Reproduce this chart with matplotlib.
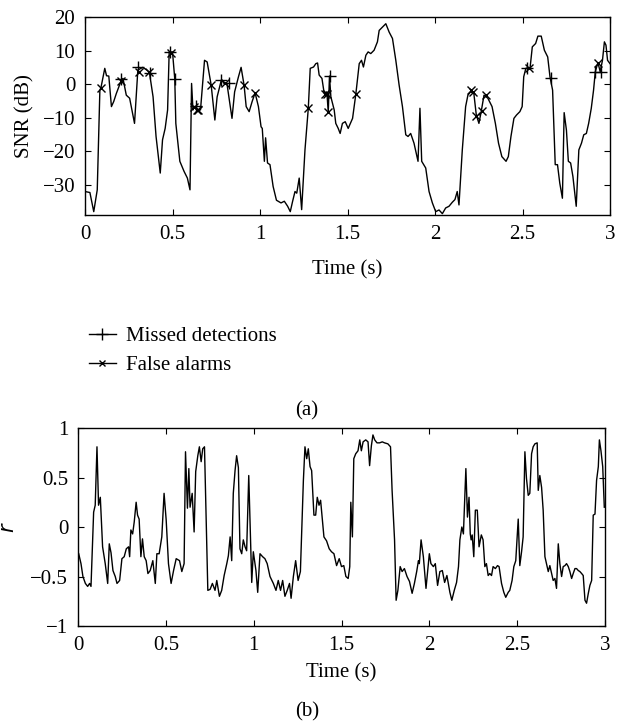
import matplotlib
matplotlib.use("Agg")
import matplotlib.pyplot as plt

# SNR curve, panel (a): (time s, SNR dB)
snr_points = [
    (0.0, -32), (0.028, -32.3), (0.05, -38), (0.07, -31.5), (0.085, -1.8), (0.091, -1.1),
    (0.113, 4.7), (0.123, 2.5), (0.136, 2.4), (0.151, -6.7), (0.164, -5.2), (0.179, -2.8),
    (0.208, 1.2), (0.217, 1.7), (0.236, -3.3), (0.255, -4.2), (0.283, -11.7), (0.302, 4.2),
    (0.33, 5.0), (0.353, 4.2), (0.368, 3.5), (0.389, -3.8), (0.406, -15.6), (0.43, -26.5),
    (0.443, -16.6), (0.458, -13.2), (0.472, -7.7), (0.481, 9.6), (0.5, 9.6), (0.513, 1.5),
    (0.519, -11.7), (0.542, -23), (0.566, -26), (0.585, -28), (0.6, -31.5), (0.609, 0.2),
    (0.617, -7.7), (0.623, -6.9), (0.632, -6.7), (0.647, -7.7), (0.66, -7.7), (0.683, 7.1),
    (0.698, 6.6), (0.721, -0.3), (0.742, -10.7), (0.755, -3.8), (0.779, 1.2), (0.796, 0.2),
    (0.811, 0.2), (0.84, -10.2), (0.855, -2.3), (0.877, 2.2), (0.892, 5.0), (0.909, -0.3),
    (0.921, -6.7), (0.938, -8.2), (0.955, -5.2), (0.972, -2.6), (0.991, -6.7), (1.006, -12.7),
    (1.013, -13.2), (1.025, -23), (1.032, -16), (1.043, -23.5), (1.057, -24), (1.075, -30.5),
    (1.094, -34.6), (1.12, -35.4), (1.139, -34.9), (1.158, -36.4), (1.173, -38), (1.186, -35),
    (1.2, -32), (1.21, -32.5), (1.224, -28), (1.238, -37.4), (1.257, -19.6), (1.276, -7.2),
    (1.287, 4.7), (1.306, 5.1), (1.319, 6.1), (1.329, 6.3), (1.338, 2.7), (1.354, 1.7),
    (1.367, -2.8), (1.382, -2.3), (1.39, -8.4), (1.397, 2.4), (1.405, -3.8), (1.414, -5.7),
    (1.424, -7.7), (1.433, -11.7), (1.447, -13.2), (1.458, -14.7), (1.471, -11.7), (1.487, -11.2),
    (1.504, -13.2), (1.529, -10.2), (1.548, -2.8), (1.567, 6.1), (1.58, 7.1), (1.591, 5.1),
    (1.605, 8.6), (1.618, 9.6), (1.633, 9.1), (1.652, 10.1), (1.671, 12.6), (1.681, 16),
    (1.7, 17), (1.719, 18), (1.738, 15.5), (1.757, 13.6), (1.776, 7.1), (1.795, -0.3),
    (1.814, -6.7), (1.833, -15.1), (1.846, -15.6), (1.861, -14.7), (1.88, -17.6), (1.903, -23),
    (1.914, -7.2), (1.924, -23), (1.947, -25), (1.966, -32), (1.985, -35.4), (2.004, -38),
    (2.023, -37.5), (2.042, -38.6), (2.061, -36.9), (2.08, -36.4), (2.099, -35.2), (2.114, -34.4),
    (2.127, -32), (2.137, -36), (2.156, -19.6), (2.175, -6.7), (2.188, -3.3), (2.203, -2.3),
    (2.222, -2.8), (2.236, -9.2), (2.251, -11.7), (2.264, -8.2), (2.28, -3.3), (2.302, -4.2),
    (2.326, -6.7), (2.345, -11.7), (2.363, -17.6), (2.382, -21.6), (2.406, -23), (2.419, -21.6),
    (2.434, -15.6), (2.451, -10.2), (2.466, -9.2), (2.485, -8.2), (2.498, -6.7), (2.507, 2.2),
    (2.519, 4.7), (2.532, 4.9), (2.543, 4.7), (2.556, 11.1), (2.575, 12.1), (2.588, 14.3),
    (2.607, 14.3), (2.625, 10.1), (2.644, 8.1), (2.657, 2.2), (2.672, -1.8), (2.687, -24),
    (2.7, -24), (2.713, -29.5), (2.728, -34), (2.738, -8.5), (2.751, -13.7), (2.762, -23),
    (2.775, -23.5), (2.788, -27.5), (2.807, -36.4), (2.822, -19.6), (2.837, -17.6), (2.85, -15.1),
    (2.865, -14.7), (2.878, -11.7), (2.893, -7.2), (2.906, -1.8), (2.916, 3.7), (2.931, 6.4),
    (2.944, 3.7), (2.957, 7.1), (2.968, 12.6), (2.977, 11.6), (2.986, 7.1), (3.0, 6.1),
]

# marked frames
missed_t = [0.208, 0.302, 0.372, 0.485, 0.513, 0.632, 0.779, 0.821, 1.399, 2.528, 2.663, 2.916, 2.95]
missed_db = [1.4, 5.0, 3.2, 9.6, 1.5, -6.5, 1.2, 0.2, 2.4, 4.7, 1.9, 3.7, 3.7]
false_t = [0.091, 0.208, 0.306, 0.368, 0.491, 0.623, 0.638, 0.647, 0.721, 0.802, 0.909, 0.972,
           1.276, 1.371, 1.382, 1.39, 1.548, 2.207, 2.219, 2.236, 2.27, 2.289, 2.537, 2.931]
false_db = [-1.1, 1.0, 3.7, 3.5, 9.4, -6.9, -7.7, -7.7, -0.3, 0.2, -0.3, -2.6,
            -7.2, -2.8, -2.8, -8.4, -2.8, -1.8, -2.3, -9.5, -8.0, -3.3, 4.7, 6.4]

# correlation r, panel (b): (time s, r)
r_points = [
    (0.004, -0.27), (0.017, -0.37), (0.028, -0.5), (0.042, -0.57), (0.055, -0.6), (0.066, -0.57),
    (0.074, -0.6), (0.089, 0.15), (0.098, 0.22), (0.108, 0.81), (0.117, 0.22), (0.127, 0.3),
    (0.14, -0.2), (0.155, -0.37), (0.169, -0.57), (0.178, -0.17), (0.188, -0.26), (0.199, -0.44),
    (0.212, -0.5), (0.222, -0.57), (0.237, -0.54), (0.25, -0.32), (0.263, -0.3), (0.275, -0.22),
    (0.288, -0.2), (0.294, -0.3), (0.301, -0.03), (0.311, -0.07), (0.32, 0.05), (0.331, 0.25),
    (0.339, 0.12), (0.348, 0.08), (0.358, -0.3), (0.367, -0.12), (0.377, -0.3), (0.388, -0.34),
    (0.398, -0.47), (0.411, -0.44), (0.426, -0.34), (0.44, -0.57), (0.449, -0.27), (0.462, -0.27),
    (0.477, -0.1), (0.49, 0.34), (0.502, 0.07), (0.515, -0.37), (0.53, -0.57), (0.544, -0.44),
    (0.559, -0.32), (0.578, -0.34), (0.591, -0.45), (0.604, -0.37), (0.612, 0.76), (0.623, 0.19),
    (0.631, 0.59), (0.638, 0.2), (0.65, 0.34), (0.661, -0.05), (0.67, 0.56), (0.682, 0.72),
    (0.691, 0.81), (0.701, 0.66), (0.71, 0.79), (0.72, 0.81), (0.739, -0.64), (0.752, -0.63),
    (0.765, -0.57), (0.78, -0.64), (0.79, -0.54), (0.805, -0.7), (0.818, -0.64), (0.832, -0.49),
    (0.847, -0.37), (0.856, -0.29), (0.866, -0.1), (0.875, -0.34), (0.884, 0.34), (0.894, 0.57),
    (0.903, 0.72), (0.913, 0.6), (0.922, -0.22), (0.932, -0.27), (0.941, -0.13), (0.951, -0.2),
    (0.96, -0.24), (0.972, 0.52), (0.989, -0.56), (0.998, -0.25), (1.013, -0.44), (1.023, -0.66),
    (1.036, -0.27), (1.051, -0.3), (1.064, -0.32), (1.077, -0.37), (1.093, -0.5), (1.112, -0.57),
    (1.127, -0.64), (1.14, -0.54), (1.153, -0.64), (1.165, -0.54), (1.178, -0.7), (1.191, -0.64),
    (1.204, -0.57), (1.213, -0.72), (1.226, -0.5), (1.239, -0.34), (1.253, -0.54), (1.266, -0.45),
    (1.283, 0.47), (1.292, 0.81), (1.302, 0.69), (1.311, 0.79), (1.321, 0.61), (1.33, 0.57),
    (1.343, 0.12), (1.353, 0.12), (1.362, 0.3), (1.372, 0.22), (1.381, 0.27), (1.4, -0.1),
    (1.415, -0.14), (1.43, -0.22), (1.443, -0.25), (1.457, -0.27), (1.472, -0.39), (1.487, -0.32),
    (1.5, -0.4), (1.513, -0.39), (1.525, -0.5), (1.538, -0.52), (1.547, -0.4), (1.553, 0.25),
    (1.562, -0.1), (1.57, 0.69), (1.581, 0.74), (1.594, 0.77), (1.604, 0.88), (1.613, 0.77),
    (1.623, 0.86), (1.638, 0.88), (1.651, 0.86), (1.66, 0.62), (1.67, 0.82), (1.679, 0.93),
    (1.689, 0.88), (1.702, 0.85), (1.717, 0.85), (1.732, 0.86), (1.745, 0.85), (1.764, 0.84),
    (1.779, 0.81), (1.788, 0.37), (1.802, -0.13), (1.811, -0.74), (1.821, -0.64), (1.834, -0.4),
    (1.845, -0.45), (1.858, -0.42), (1.873, -0.5), (1.887, -0.55), (1.902, -0.67), (1.915, -0.57),
    (1.928, -0.45), (1.938, -0.34), (1.943, -0.37), (1.953, -0.13), (1.966, -0.3), (1.981, -0.62),
    (1.991, -0.44), (2.0, -0.27), (2.009, -0.37), (2.023, -0.4), (2.034, -0.37), (2.047, -0.59),
    (2.06, -0.45), (2.074, -0.44), (2.087, -0.56), (2.1, -0.49), (2.117, -0.66), (2.128, -0.74),
    (2.142, -0.64), (2.155, -0.56), (2.166, -0.4), (2.174, -0.13), (2.185, 0.0), (2.194, -0.07),
    (2.208, 0.59), (2.217, 0.1), (2.226, 0.3), (2.233, -0.07), (2.238, -0.13), (2.244, -0.08),
    (2.253, -0.3), (2.262, 0.17), (2.273, 0.17), (2.283, -0.2), (2.296, -0.08), (2.306, -0.13),
    (2.316, -0.4), (2.325, -0.37), (2.335, -0.49), (2.344, -0.47), (2.354, -0.49), (2.363, -0.4),
    (2.376, -0.42), (2.388, -0.39), (2.397, -0.4), (2.411, -0.57), (2.424, -0.66), (2.435, -0.71),
    (2.449, -0.66), (2.458, -0.64), (2.471, -0.54), (2.481, -0.4), (2.492, -0.34), (2.506, 0.08),
    (2.515, -0.39), (2.525, -0.25), (2.534, -0.1), (2.544, 0.76), (2.553, 0.49), (2.563, 0.32),
    (2.572, 0.34), (2.582, 0.74), (2.591, 0.81), (2.601, 0.84), (2.614, 0.85), (2.62, 0.37),
    (2.629, 0.52), (2.639, 0.4), (2.648, 0.17), (2.658, -0.3), (2.667, -0.37), (2.677, -0.45),
    (2.686, -0.39), (2.696, -0.47), (2.705, -0.54), (2.715, -0.52), (2.724, -0.62), (2.734, -0.17),
    (2.743, -0.37), (2.753, -0.5), (2.762, -0.4), (2.772, -0.39), (2.781, -0.37), (2.791, -0.4),
    (2.8, -0.45), (2.81, -0.52), (2.819, -0.47), (2.829, -0.42), (2.838, -0.42), (2.848, -0.44),
    (2.857, -0.45), (2.867, -0.47), (2.876, -0.49), (2.886, -0.74), (2.895, -0.77), (2.905, -0.67),
    (2.914, -0.59), (2.924, -0.54), (2.933, 0.12), (2.943, 0.13), (2.952, 0.47), (2.962, 0.61),
    (2.968, 0.88), (2.977, 0.77), (2.987, 0.61), (2.996, 0.2),
]

x_ticks = [0, 0.5, 1, 1.5, 2, 2.5, 3]
x_ticklabels = ["0", "0.5", "1", "1.5", "2", "2.5", "3"]
snr_ticks = [-30, -20, -10, 0, 10, 20]
r_ticks = [-1, -0.5, 0, 0.5, 1]

snr_t, snr_db = zip(*snr_points)
r_t, r_val = zip(*r_points)

plt.rcParams['font.family'] = ['Liberation Serif', 'DejaVu Serif']
plt.rcParams['font.size'] = 15
plt.rcParams['axes.linewidth'] = 1.0
plt.rcParams['axes.unicode_minus'] = True

fig = plt.figure(figsize=(6.17, 7.28), dpi=100)

W, H = 617.0, 728.0
ax1 = fig.add_axes([85 / W, 1 - 215 / H, (610 - 85) / W, (215 - 17) / H])
ax2 = fig.add_axes([78 / W, 1 - 626 / H, (605 - 78) / W, (626 - 428) / H])

for ax in (ax1, ax2):
    ax.tick_params(direction='in', top=True, right=True, length=4, width=0.8, pad=7)
    ax.set_xlim(0, 3)
    ax.set_xticks(x_ticks)
    ax.set_xticklabels(x_ticklabels)

ax1.plot(snr_t, snr_db, color='black', lw=1.0)
ax1.plot(missed_t, missed_db, '+', color='black', ms=8, mew=1.0)
ax1.plot(false_t, false_db, 'x', color='black', ms=6, mew=1.0)
ax1.set_ylim(-39, 20)
ax1.set_yticks(snr_ticks)
ax1.set_ylabel('SNR (dB)', labelpad=6)
ax1.set_xlabel('Time (s)', labelpad=12)

# legend entries are line + marker like the original
h1, = ax1.plot([], [], '-', marker='+', color='black', lw=1.0, ms=8, mew=1.0)
h2, = ax1.plot([], [], '-', marker='x', color='black', lw=1.0, ms=5, mew=1.0)
fig.legend([h1, h2], ['Missed detections', 'False alarms'], loc='upper left',
           bbox_to_anchor=(70 / W, 1 - 308 / H), frameon=False, handlelength=1.3,
           handletextpad=0.5, labelspacing=0.45, fontsize=15)

ax2.plot(r_t, r_val, color='black', lw=1.0)
ax2.set_ylim(-1, 1)
ax2.set_yticks(r_ticks)
ax2.set_yticklabels(['\u22121', '\u22120.5', '0', '0.5', '1'])
ax2.set_ylabel('$r$', labelpad=8)
ax2.set_xlabel('Time (s)', labelpad=6)

fig.text(307 / W, 1 - 411 / H, '(a)', ha='center', va='center', fontsize=15)
fig.text(307 / W, 1 - 712 / H, '(b)', ha='center', va='center', fontsize=15)

fig.savefig('out.png', dpi=100)
